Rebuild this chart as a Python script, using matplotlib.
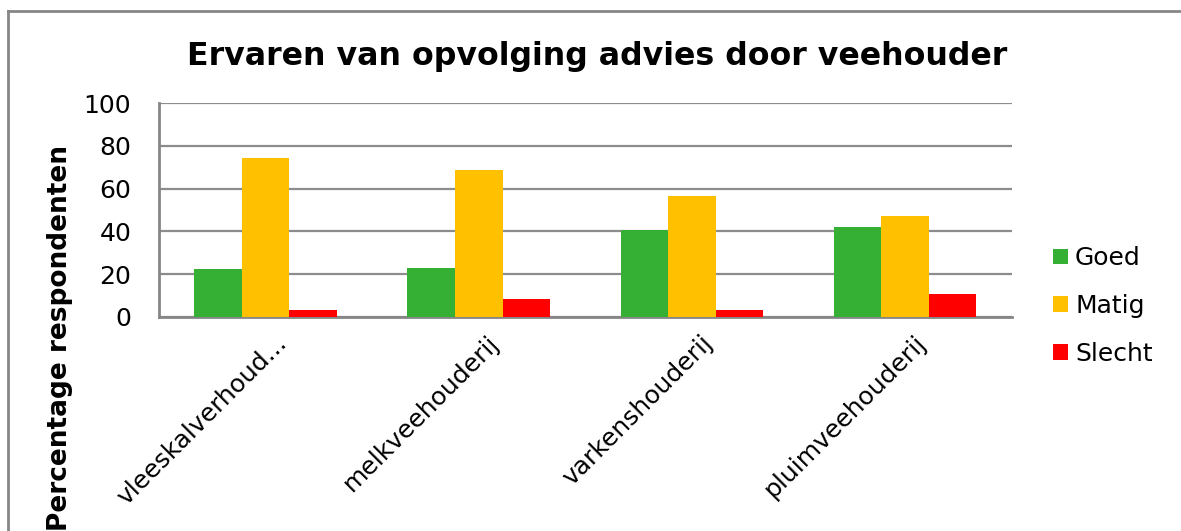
#!/usr/bin/env python3
#
import matplotlib
matplotlib.use('Agg')
import matplotlib.pyplot as plt
import numpy as np
from matplotlib.lines import Line2D

CATEGORIES = ['vleeskalverhoud...', 'melkveehouderij', 'varkenshouderij', 'pluimveehouderij']
GOED = [22.5, 22.8, 40.6, 42.0]
MATIG = [74.2, 68.7, 56.4, 47.2]
SLECHT = [3.1, 8.1, 3.0, 10.5]
SERIES = ['Goed', 'Matig', 'Slecht']
COLORS = ['#35B035', '#FFC000', '#FF0000']
YTICKS = [0, 20, 40, 60, 80, 100]

W, H = 1181, 531


def px(x, y):
  return x / W, 1 - y / H


def main():
  plt.rcParams['font.family'] = ['DejaVu Sans']
  fig = plt.figure(figsize=(W / 100, H / 100), dpi=100)
  left, top = px(159, 103.3)
  right, bottom = px(1011.7, 316.7)
  ax = fig.add_axes([left, bottom, right - left, top - bottom])

  x = np.arange(len(CATEGORIES))
  width = 0.223
  for i, (name, vals, col) in enumerate(zip(SERIES, (GOED, MATIG, SLECHT), COLORS)):
    ax.bar(x + (i - 1) * width, vals, width, color=col, label=name, zorder=3)

  ax.set_xlim(-0.5, len(CATEGORIES) - 0.5)
  ax.set_ylim(0, 100)
  ax.set_yticks(YTICKS)
  ax.tick_params(axis='y', length=0, pad=20, labelsize=18)
  ax.tick_params(axis='x', length=0, pad=10, labelsize=18)
  ax.set_xticks(x + 0.04)
  ax.set_xticklabels(CATEGORIES, rotation=45, ha='right', rotation_mode='anchor')
  ax.grid(axis='y', color='#8c8c8c', linewidth=1.6, zorder=0)
  for side in ('top', 'right'):
    ax.spines[side].set_visible(False)
  for side in ('left', 'bottom'):
    ax.spines[side].set_color('#868686')
    ax.spines[side].set_linewidth(2)

  tx, ty = px(597, 56)
  fig.text(tx, ty, 'Ervaren van opvolging advies door veehouder', ha='center', va='center',
           fontsize=22.8, fontweight='bold')
  lx, ly = px(60, 338)
  fig.text(lx, ly, 'Percentage respondenten', rotation=90, ha='center', va='center',
           fontsize=19, fontweight='bold')

  lgx, lgy = px(1030, 306)
  fig.legend(loc='center left', bbox_to_anchor=(lgx, lgy), frameon=False, fontsize=18,
             handlelength=0.6, handleheight=0.6, handletextpad=0.3, labelspacing=0.95)

  x0, y0 = px(8, 11)
  fig.add_artist(Line2D([x0, 1], [y0, y0], color='#868686', linewidth=2, transform=fig.transFigure))
  fig.add_artist(Line2D([x0, x0], [0, y0], color='#868686', linewidth=2, transform=fig.transFigure))

  fig.savefig('out.png', dpi=100, facecolor='white')
  plt.close(fig)


if __name__ == '__main__':
  main()
